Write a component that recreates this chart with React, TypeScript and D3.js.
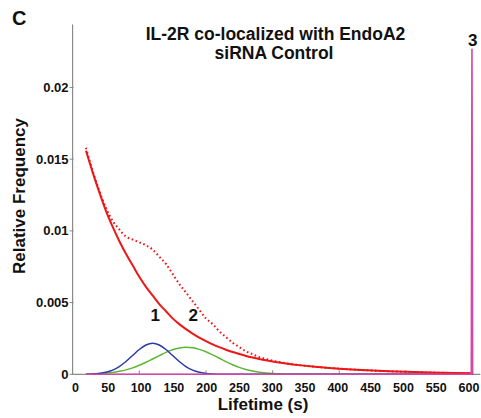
import React from "react";
import * as d3 from "d3";

// ---- data ----
const redX = [20, 30, 40, 50, 60, 70, 80, 90, 100, 110, 120, 130, 140, 150, 160, 170, 180, 190, 200, 210, 220, 230, 240, 250, 260, 270, 280, 290, 300, 320, 340, 360, 380, 400, 425, 450, 475, 500, 550, 600];
const redY = [0.0156, 0.0141, 0.0127, 0.0114, 0.0103, 0.0093, 0.0084, 0.0076, 0.0068, 0.0061, 0.0055, 0.0049, 0.0044, 0.0039, 0.0035, 0.00315, 0.00284, 0.00256, 0.00231, 0.00209, 0.00189, 0.00171, 0.00155, 0.00141, 0.00128, 0.00117, 0.00107, 0.00098, 0.0009, 0.00076, 0.00064, 0.00054, 0.00046, 0.00039, 0.00032, 0.00026, 0.00021, 0.00017, 0.00011, 0.00007];

const dotX = [20, 30, 40, 50, 60, 70, 80, 90, 100, 110, 120, 130, 140, 150, 160, 170, 180, 190, 200, 210, 220, 230, 240, 250, 260, 270, 280, 290, 300, 320, 340, 360, 380, 400, 425, 450, 475, 500, 550, 600];
const dotY = [0.0158, 0.0142, 0.0128, 0.0116, 0.0107, 0.0101, 0.0096, 0.0094, 0.0092, 0.009, 0.0087, 0.0082, 0.0077, 0.007, 0.0063, 0.0057, 0.0051, 0.0045, 0.0039, 0.0035, 0.003, 0.0026, 0.0022, 0.0019, 0.0016, 0.0014, 0.0012, 0.00107, 0.00095, 0.00077, 0.00064, 0.00054, 0.00046, 0.00039, 0.00032, 0.00026, 0.00021, 0.00017, 0.00011, 0.00007];

const blueX = [20, 30, 40, 50, 60, 70, 80, 90, 100, 110, 120, 130, 140, 150, 160, 170, 180, 190, 200, 210, 220, 600];
const blueY = [0, 0.00002, 0.00006, 0.00014, 0.00029, 0.00054, 0.00089, 0.00131, 0.00173, 0.00204, 0.00216, 0.00204, 0.00173, 0.00131, 0.00089, 0.00054, 0.00029, 0.00014, 0.00006, 0.00002, 0, 0];

const greenX = [20, 30, 40, 50, 60, 70, 80, 90, 100, 110, 120, 130, 140, 150, 160, 170, 180, 190, 200, 210, 220, 230, 240, 250, 260, 270, 280, 290, 300, 310, 320, 330, 600];
const greenY = [0.00001, 0.00003, 0.00005, 0.00008, 0.00013, 0.00021, 0.00031, 0.00045, 0.00063, 0.00084, 0.00107, 0.0013, 0.00153, 0.00171, 0.00183, 0.00188, 0.00185, 0.00174, 0.00157, 0.00135, 0.00112, 0.00088, 0.00067, 0.00048, 0.00034, 0.00023, 0.00014, 0.00009, 0.00005, 0.00003, 0.00001, 0, 0];

const magX = [20, 598, 599, 600];
const magY = [0, 0, 0.0227, 0];

const xTickLabels = [0, 50, 100, 150, 200, 250, 300, 350, 400, 450, 500, 550, 600];
const xTickMarks = [100, 200, 300, 400, 500, 600];
const yTicks = [0, 0.005, 0.01, 0.015, 0.02];
const yTickLabels = ["0", "0.005", "0.01", "0.015", "0.02"];

const annoText = ["1", "2", "3"];
const annoX = [124, 181, 600];
const annoY = [0.0037, 0.0037, 0.0229];

const FONT = "'Liberation Sans', Arial, Helvetica, sans-serif";

export default function App() {
  const W = 481, H = 418;
  const x = d3.scaleLinear().domain([0, 610]).range([72.6, 479.3]);
  const y = d3.scaleLinear().domain([0, 0.0244]).range([374.3, 24.4]);
  // tick labels in the source figure sit on a slightly different spacing than the tick marks
  const xLab = d3.scaleLinear().domain([0, 600]).range([75.5, 469]);

  const mk = (xs: number[], ys: number[], curve: any = d3.curveMonotoneX) =>
    d3.line<number>().x((_, i) => x(xs[i])).y((d) => y(d)).curve(curve)(ys) || "";

  return (
    <svg width={W} height={H} style={{ position: "absolute", left: 0, top: 0, background: "#fff" }} fontFamily={FONT}>
      <rect width={W} height={H} fill="#fff" />
      {/* axes */}
      <line x1={x(0)} x2={x(0)} y1={y(0.0244)} y2={y(0)} stroke="#8a8a8a" strokeWidth={1.2} />
      <line x1={x(0)} x2={x.range()[1] + 1} y1={y(0)} y2={y(0)} stroke="#8a8a8a" strokeWidth={1.2} />
      {yTicks.map((t, i) => (
        <g key={"yt" + i}>
          <line x1={x(0) - 3} x2={x(0) + 1} y1={y(t)} y2={y(t)} stroke="#8a8a8a" strokeWidth={1} />
          <text x={x(0) - 4} y={y(t) + 4.5} textAnchor="end" fontSize={13} fontWeight="bold" fill="#111">
            {yTickLabels[i]}
          </text>
        </g>
      ))}
      {xTickMarks.map((t) => (
        <line key={"xm" + t} x1={x(t)} x2={x(t)} y1={y(0)} y2={y(0) - 4} stroke="#8a8a8a" strokeWidth={1} />
      ))}
      {xTickLabels.map((t) => (
        <text key={"xl" + t} x={xLab(t)} y={392} textAnchor="middle" fontSize={12.5} fontWeight="bold" fill="#111">
          {t}
        </text>
      ))}

      {/* curves */}
      <path d={mk(greenX, greenY)} fill="none" stroke="#5cb631" strokeWidth={1.5} />
      <path d={mk(blueX, blueY)} fill="none" stroke="#2b3aa6" strokeWidth={1.5} />
      <path d={mk(redX, redY)} fill="none" stroke="#ee1616" strokeWidth={2} />
      <path d={mk(dotX, dotY)} fill="none" stroke="#ee1616" strokeWidth={2} strokeDasharray="1.6,2.6" />
      <path d={mk(magX, magY, d3.curveLinear)} fill="none" stroke="#d446a8" strokeWidth={1.6} />

      {/* annotations */}
      {annoText.map((t, i) => (
        <text key={"a" + i} x={x(annoX[i])} y={y(annoY[i])} textAnchor="middle" fontSize={17} fontWeight="bold" fill="#111">
          {t}
        </text>
      ))}

      {/* titles */}
      <text x={12} y={25} fontSize={20} fontWeight="bold" fill="#111">C</text>
      <text x={275.5} y={40} textAnchor="middle" fontSize={17.5} fontWeight="bold" fill="#111">
        IL-2R co-localized with EndoA2
      </text>
      <text x={274} y={59} textAnchor="middle" fontSize={17.5} fontWeight="bold" fill="#111">
        siRNA Control
      </text>
      <text x={263} y={410} textAnchor="middle" fontSize={17} fontWeight="bold" fill="#111">
        Lifetime (s)
      </text>
      <text transform="translate(25,196) rotate(-90)" textAnchor="middle" fontSize={17} fontWeight="bold" fill="#111">
        Relative Frequency
      </text>
    </svg>
  );
}
